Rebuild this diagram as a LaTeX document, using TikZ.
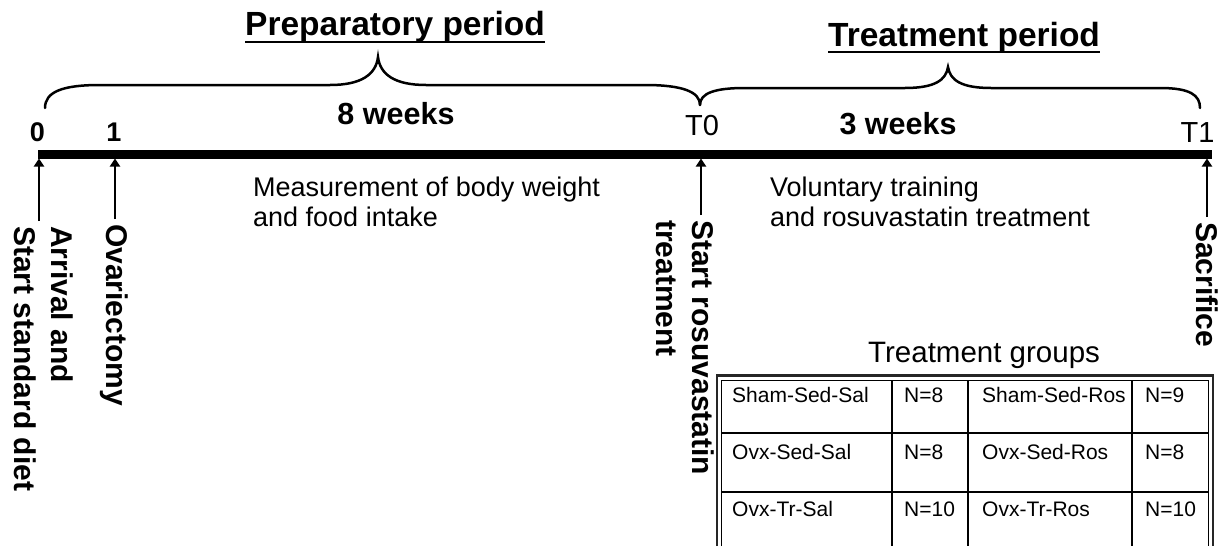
\documentclass[tikz,border=0pt]{standalone}
\usepackage{fontspec}
\setmainfont{Liberation Sans}
\usetikzlibrary{arrows.meta,calc}
\begin{document}
\begin{tikzpicture}[x=1pt,y=-1pt,
  every node/.style={inner sep=0pt, text=black},
  hdr/.style={font=\fontsize{33.5}{38}\selectfont\bfseries, anchor=base west},
  tick/.style={font=\fontsize{27}{32}\selectfont\bfseries, anchor=base},
  tlab/.style={font=\fontsize{29}{34}\selectfont, anchor=base},
  wk/.style={font=\fontsize{30.5}{34}\selectfont\bfseries, anchor=base},
  desc/.style={font=\fontsize{27}{30}\selectfont, align=left, anchor=north west},
  vlab/.style={font=\fontsize{30}{36.5}\selectfont\bfseries, rotate=-90, anchor=west, align=left},
  arr/.style={line width=2.5pt, -{Triangle[width=10pt,length=8pt]}, shorten <=5pt},
  brace/.style={line width=2.5pt, line cap=round},
  cell/.style={font=\fontsize{21}{25}\selectfont, anchor=base west},
  tline/.style={line width=1.3pt},
  ]
\useasboundingbox (0,0) rectangle (1220,546);

% headings
\node[hdr] (prep) at (245,35) {Preparatory period};
\draw[line width=2pt] ([yshift=-7pt]prep.base west) -- ([yshift=-7pt]prep.base east);
\node[hdr] (treat) at (828,46) {Treatment period};
\draw[line width=2pt] ([yshift=-6pt]treat.base west) -- ([yshift=-6pt]treat.base east);

% braces
\draw[brace] (45,108) .. controls (45,92) and (62,85) .. (100,85) -- (330,85)
  .. controls (362,85) and (376,74) .. (378,57)
  .. controls (380,74) and (394,85) .. (426,85) -- (645,85)
  .. controls (683,85) and (700,92) .. (700,105);
\draw[brace] (700,105) .. controls (700,93) and (715,88) .. (745,88) -- (905,88)
  .. controls (935,88) and (946,80) .. (948,67)
  .. controls (950,80) and (961,88) .. (991,88) -- (1160,88)
  .. controls (1190,88) and (1200,95) .. (1200,108);

% tick labels
\node[tick] (n0) at (37.5,141) {0};
\node[tick] (n1) at (114,141) {1};
\node[tlab] (T0) at (702,135) {T0};
\node[tlab] (T1) at (1197.5,142) {T1};
\node[wk] (w8) at (396,124) {8 weeks};
\node[wk] (w3) at (898,134) {3 weeks};

% timeline bar
\draw[line width=9pt] (38,154) -- (1212,154);
\coordinate (p0) at (39,158.5);
\coordinate (p1) at (115,158.5);
\coordinate (pT0) at (701,158.5);
\coordinate (pT1) at (1207,158.5);

% descriptions
\node[desc] (meas) at (253,177) {Measurement of body weight\\and food intake};
\node[desc] (vol) at (770,177) {Voluntary training\\and rosuvastatin treatment};

% vertical labels
\node[vlab] (l0) at (43.5,226) {Arrival and\\Start standard diet};
\node[vlab] (l1) at (114,224) {Ovariectomy};
\node[vlab] (lT0) at (685,220) {Start rosuvastatin\\treatment};
\node[vlab] (lT1) at (1207,222) {Sacrifice};

\draw[arr] (l0.west -| p0) -- (p0);
\draw[arr] (l1.west -| p1) -- (p1);
\draw[arr] (lT0.west -| pT0) -- (pT0);
\draw[arr] (lT1.west -| pT1) -- (pT1);

% table
\node[font=\fontsize{29.5}{32}\selectfont, anchor=base west] (tg) at (868,362) {Treatment groups};
\draw[line width=2.5pt, draw=black!85] (717,546) -- (717,375.5) -- (1213,375.5) -- (1213,546);
\draw[line width=1pt] (721.5,546) -- (721.5,380) -- (1208.5,380) -- (1208.5,546);
\draw[tline] (721.5,433) -- (1208.5,433);
\draw[tline] (721.5,492) -- (1208.5,492);
\draw[tline] (892,380) -- (892,546);
\draw[tline] (968,380) -- (968,546);
\draw[tline] (1132,380) -- (1132,546);

\node[cell] (c11) at (732,402) {Sham-Sed-Sal};
\node[cell] (c12) at (904,402) {N=8};
\node[cell] (c13) at (982,402) {Sham-Sed-Ros};
\node[cell] (c14) at (1145,402) {N=9};
\node[cell] (c21) at (732,459) {Ovx-Sed-Sal};
\node[cell] (c22) at (904,459) {N=8};
\node[cell] (c23) at (982,459) {Ovx-Sed-Ros};
\node[cell] (c24) at (1145,459) {N=8};
\node[cell] (c31) at (732,516) {Ovx-Tr-Sal};
\node[cell] (c32) at (904,516) {N=10};
\node[cell] (c33) at (982,516) {Ovx-Tr-Ros};
\node[cell] (c34) at (1145,516) {N=10};
\end{tikzpicture}
\end{document}
